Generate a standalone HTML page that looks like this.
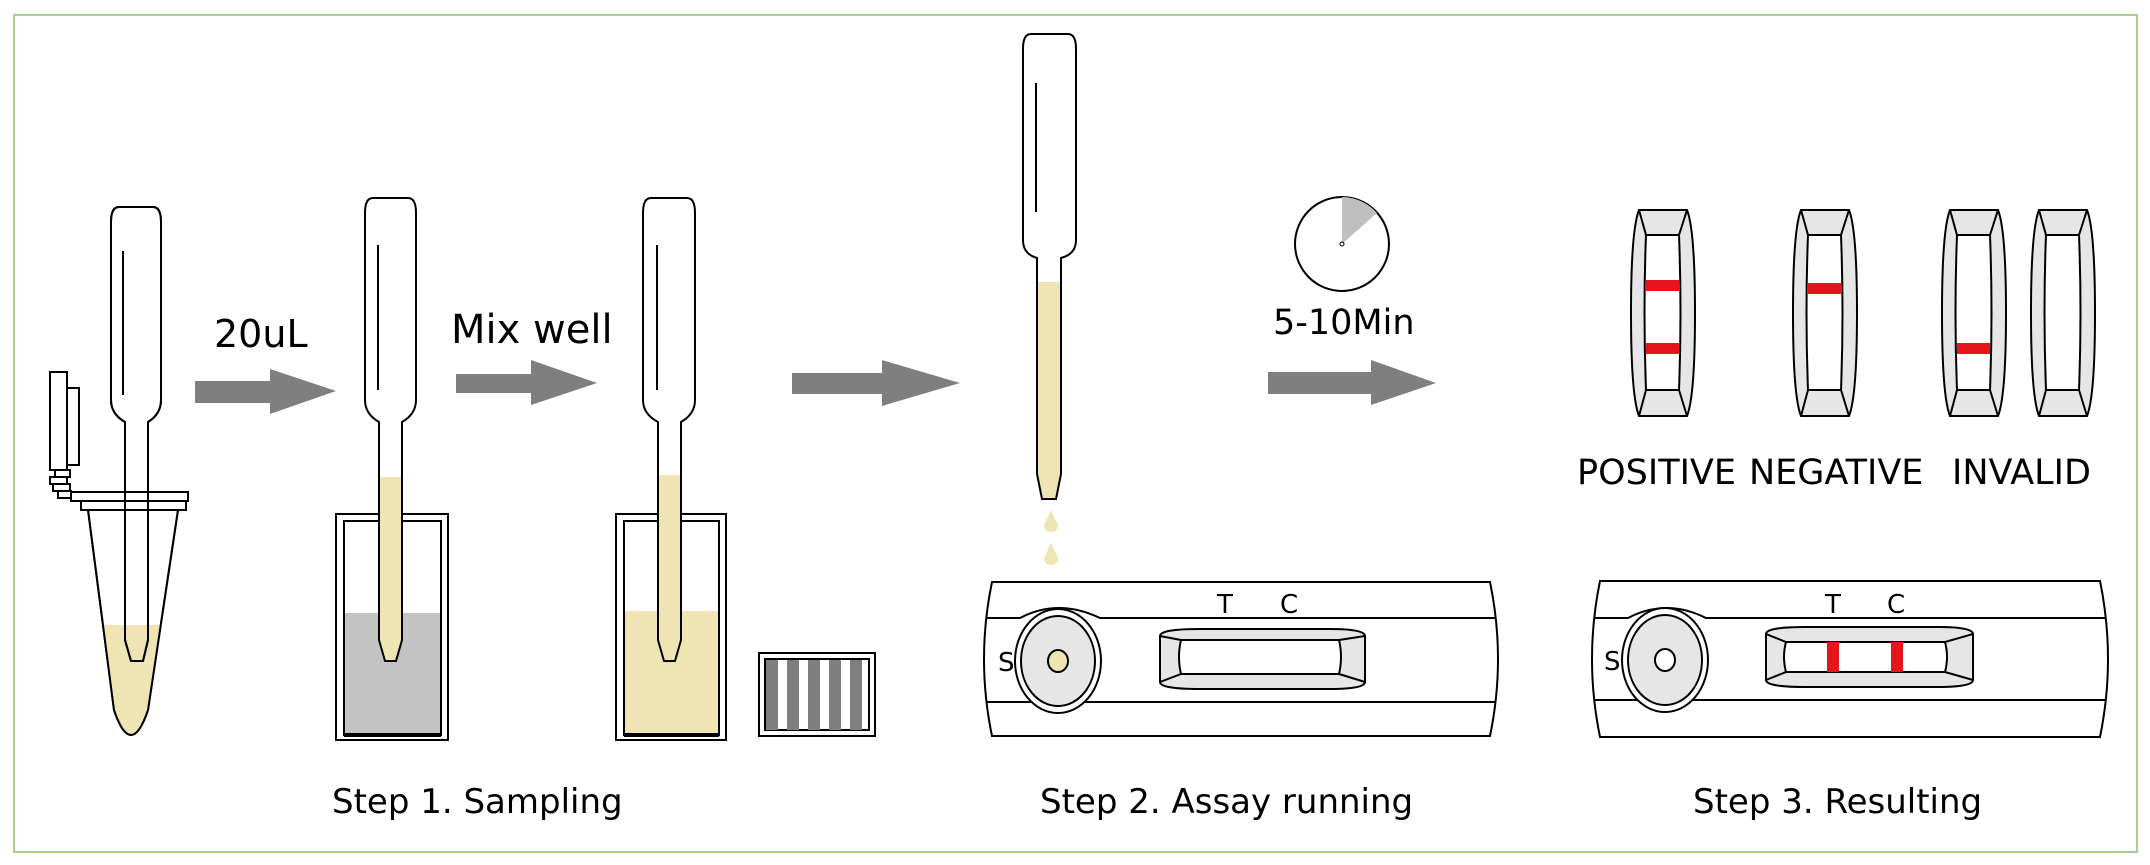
<!DOCTYPE html>
<html><head><meta charset="utf-8"><style>
html,body{margin:0;padding:0;background:#fff;}
svg{display:block;}
text{font-family:"DejaVu Sans","Liberation Sans",sans-serif;fill:#000;}
</style></head><body>
<svg width="2150" height="865" viewBox="0 0 2150 865" xmlns="http://www.w3.org/2000/svg">
<rect x="14" y="15" width="2123" height="837" fill="#fff" stroke="#a9d18e" stroke-width="2"/>
<g fill="none" stroke="#000" stroke-width="2">

<!-- Tube hinge -->
<rect x="50" y="372" width="17" height="98" fill="#fff"/>
<rect x="67" y="388" width="12" height="77" fill="#fff"/>
<rect x="55" y="470" width="15" height="7" fill="#fff"/>
<rect x="50" y="477" width="17" height="7" fill="#fff"/>
<rect x="53" y="484" width="17" height="7" fill="#fff"/>
<rect x="58" y="491" width="13" height="7" fill="#fff"/>
<rect x="71" y="492" width="117" height="9" fill="#fff"/>
<rect x="81" y="501" width="105" height="9" fill="#fff"/>
<!-- cone -->
<path d="M88 510 L178 510 L148 710 Q131 760 114 710 Z" fill="#fff"/>
<clipPath id="cone"><path d="M88 510 L178 510 L148 710 Q131 760 114 710 Z"/></clipPath>
<rect x="80" y="625" width="110" height="130" fill="#efe5b4" stroke="none" clip-path="url(#cone)"/>
<path d="M88 510 L178 510 L148 710 Q131 760 114 710 Z"/>

<!-- Pipette 1 -->
<path d="M119 207 L153 207 Q161 207 161 222 L161 400 Q161 414 148 422 L148 640 L143 661 L131 661 L125 640 L125 422 Q111 414 111 400 L111 222 Q111 207 119 207 Z" fill="#fff" fill-opacity="0"/>
<line x1="123" y1="251" x2="123" y2="395"/>

<!-- Arrow 1 -->
<path d="M195 381 L270 381 L270 369 L336 391 L270 414 L270 403 L195 403 Z" fill="#7f7f7f" stroke="none"/>

<!-- Cup 2 -->
<rect x="336" y="514" width="112" height="226" fill="#fff"/>
<rect x="344" y="521" width="97" height="214"/>
<rect x="345" y="613" width="95" height="121" fill="#c3c3c3" stroke="none"/>
<rect x="344" y="733" width="97" height="4" fill="#000" stroke="none"/>
<!-- Pipette 2 -->
<path d="M379 477 L402 477 L402 640 L396 661 L385 661 L379 640 Z" fill="#efe5b4" stroke="none"/>
<path d="M373 198 L408 198 Q416 198 416 213 L416 400 Q416 414 402 422 L402 640 L396 661 L385 661 L379 640 L379 422 Q365 414 365 400 L365 213 Q365 198 373 198 Z"/>
<line x1="378" y1="245" x2="378" y2="390"/>

<!-- Arrow 2 -->
<path d="M456 374 L531 374 L531 360 L597 383 L531 405 L531 393 L456 393 Z" fill="#7f7f7f" stroke="none"/>

<!-- Cup 3 -->
<rect x="616" y="514" width="110" height="226" fill="#fff"/>
<rect x="624" y="521" width="95" height="214"/>
<rect x="625" y="611" width="93" height="123" fill="#efe5b4" stroke="none"/>
<rect x="624" y="733" width="95" height="4" fill="#000" stroke="none"/>
<!-- Pipette 3 -->
<path d="M658 475 L681 475 L681 640 L675 661 L664 661 L658 640 Z" fill="#efe5b4" stroke="none"/>
<path d="M651 198 L687 198 Q695 198 695 213 L695 400 Q695 414 681 422 L681 640 L675 661 L664 661 L658 640 L658 422 Q643 414 643 400 L643 213 Q643 198 651 198 Z"/>
<line x1="657" y1="245" x2="657" y2="390"/>

<!-- striped box -->
<rect x="759" y="653" width="116" height="83" fill="#fff"/>
<rect x="765" y="659" width="104" height="71"/>
<g fill="#7f7f7f" stroke="none">
<rect x="766" y="660" width="12" height="70"/><rect x="787" y="660" width="12" height="70"/>
<rect x="808" y="660" width="12" height="70"/><rect x="829" y="660" width="12" height="70"/><rect x="850" y="660" width="12" height="70"/>
</g>

<!-- Arrow 3 -->
<path d="M792 373 L882 373 L882 360 L960 383 L882 406 L882 394 L792 394 Z" fill="#7f7f7f" stroke="none"/>

<!-- Pipette 4 -->
<path d="M1037 282 L1061 282 L1061 474 L1056 499 L1042 499 L1037 474 Z" fill="#efe5b4" stroke="none"/>
<path d="M1031 34 L1068 34 Q1076 34 1076 49 L1076 240 Q1076 254 1061 258 L1061 474 L1056 499 L1042 499 L1037 474 L1037 258 Q1023 254 1023 240 L1023 49 Q1023 34 1031 34 Z"/>
<line x1="1036" y1="83" x2="1036" y2="212"/>
<path d="M1051 510 L1058 525 Q1058 532 1051 532 Q1044 532 1044 525 Z" fill="#efe5b4" stroke="none"/>
<path d="M1051 543 L1058 558 Q1058 565 1051 565 Q1044 565 1044 558 Z" fill="#efe5b4" stroke="none"/>

<!-- Clock -->
<circle cx="1342" cy="244" r="47" fill="#fff"/>
<path d="M1342 244 L1342 197 A47 47 0 0 1 1377 213 Z" fill="#bfbfbf" stroke="none"/>
<circle cx="1342" cy="244" r="2" stroke-width="1"/>

<!-- Arrow 4 -->
<path d="M1268 372 L1371 372 L1371 360 L1436 383 L1371 405 L1371 394 L1268 394 Z" fill="#7f7f7f" stroke="none"/>

<!-- Cassette 2 -->
<path d="M992 582 L1490 582 Q1506 659 1490 736 L992 736 Q976 659 992 582 Z" fill="#fff"/>
<path d="M986 618 L1020 618 Q1058 598 1100 618 L1496 618"/>
<path d="M986 702 L1496 702"/>
<ellipse cx="1058" cy="661" rx="43" ry="52" fill="#fff"/>
<ellipse cx="1058" cy="661" rx="37" ry="45" fill="#e6e6e6"/>
<ellipse cx="1058" cy="661" rx="10" ry="11" fill="#efe5b4"/>
<path d="M1160 636 Q1160 629 1200 629 L1330 629 Q1365 629 1365 636 L1365 682 Q1365 689 1330 689 L1200 689 Q1160 689 1160 682 Z" fill="#e6e6e6"/>
<path d="M1181 640 L1339 640 Q1343 657 1339 674 L1181 674 Q1177 657 1181 640 Z" fill="#fff"/>
<path d="M1160 636 L1181 640 M1365 636 L1339 640 M1160 682 L1181 674 M1365 682 L1339 674"/>

<!-- Cassette 3 -->
<path d="M1600 581 L2100 581 Q2116 659 2100 737 L1600 737 Q1584 659 1600 581 Z" fill="#fff"/>
<path d="M1594 618 L1628 618 Q1666 598 1706 618 L2106 618"/>
<path d="M1594 700 L2106 700"/>
<ellipse cx="1665" cy="660" rx="43" ry="52" fill="#fff"/>
<ellipse cx="1665" cy="660" rx="37" ry="45" fill="#e6e6e6"/>
<ellipse cx="1665" cy="660" rx="10" ry="11" fill="#fff"/>
<path d="M1766 634 Q1766 627 1806 627 L1938 627 Q1973 627 1973 634 L1973 680 Q1973 687 1938 687 L1806 687 Q1766 687 1766 680 Z" fill="#e6e6e6"/>
<path d="M1786 642 L1945 642 Q1949 657 1945 672 L1786 672 Q1782 657 1786 642 Z" fill="#fff"/>
<path d="M1766 634 L1786 642 M1973 634 L1945 642 M1766 680 L1786 672 M1973 680 L1945 672"/>
<rect x="1827" y="642" width="12" height="30" fill="#e8141c" stroke="none"/>
<rect x="1891" y="642" width="12" height="30" fill="#e8141c" stroke="none"/>

<!-- Strips -->
<g id="s1">
<path d="M1639 210 L1687 210 Q1695 230 1695 313 Q1695 396 1687 416 L1639 416 Q1631 396 1631 313 Q1631 230 1639 210 Z" fill="#e6e6e6"/>
<path d="M1646 235 L1679 235 Q1682 313 1679 390 L1646 390 Q1643 313 1646 235 Z" fill="#fff"/>
<path d="M1639 210 L1646 235 M1687 210 L1679 235 M1639 416 L1646 390 M1687 416 L1679 390"/>
</g>
<g transform="translate(162,0)">
<path d="M1639 210 L1687 210 Q1695 230 1695 313 Q1695 396 1687 416 L1639 416 Q1631 396 1631 313 Q1631 230 1639 210 Z" fill="#e6e6e6"/>
<path d="M1646 235 L1679 235 Q1682 313 1679 390 L1646 390 Q1643 313 1646 235 Z" fill="#fff"/>
<path d="M1639 210 L1646 235 M1687 210 L1679 235 M1639 416 L1646 390 M1687 416 L1679 390"/>
</g>
<g transform="translate(311,0)">
<path d="M1639 210 L1687 210 Q1695 230 1695 313 Q1695 396 1687 416 L1639 416 Q1631 396 1631 313 Q1631 230 1639 210 Z" fill="#e6e6e6"/>
<path d="M1646 235 L1679 235 Q1682 313 1679 390 L1646 390 Q1643 313 1646 235 Z" fill="#fff"/>
<path d="M1639 210 L1646 235 M1687 210 L1679 235 M1639 416 L1646 390 M1687 416 L1679 390"/>
</g>
<g transform="translate(400,0)">
<path d="M1639 210 L1687 210 Q1695 230 1695 313 Q1695 396 1687 416 L1639 416 Q1631 396 1631 313 Q1631 230 1639 210 Z" fill="#e6e6e6"/>
<path d="M1646 235 L1679 235 Q1682 313 1679 390 L1646 390 Q1643 313 1646 235 Z" fill="#fff"/>
<path d="M1639 210 L1646 235 M1687 210 L1679 235 M1639 416 L1646 390 M1687 416 L1679 390"/>
</g>
<g fill="#e8141c" stroke="none">
<rect x="1646" y="280" width="33" height="11"/>
<rect x="1646" y="343" width="33" height="11"/>
<rect x="1808" y="283" width="33" height="11"/>
<rect x="1957" y="343" width="33" height="11"/>
</g>
</g>

<!-- Pipette 1 outline on top of tube -->
<path d="M119 207 L153 207 Q161 207 161 222 L161 400 Q161 414 148 422 L148 640 L143 661 L131 661 L125 640 L125 422 Q111 414 111 400 L111 222 Q111 207 119 207 Z" fill="none" stroke="#000" stroke-width="2"/>

<!-- Text -->
<text x="214" y="347" font-size="38" font-family="Liberation Sans">20uL</text>
<text x="451" y="343" font-size="40" font-family="Liberation Sans">Mix well</text>
<text x="1273" y="334" font-size="35">5-10Min</text>
<text x="998" y="671" font-size="26">S</text>
<text x="1217" y="613" font-size="26">T</text>
<text x="1280" y="613" font-size="26">C</text>
<text x="1604" y="670" font-size="26">S</text>
<text x="1825" y="613" font-size="26">T</text>
<text x="1887" y="613" font-size="26">C</text>
<text x="1577" y="484" font-size="35">POSITIVE</text>
<text x="1749" y="484" font-size="35">NEGATIVE</text>
<text x="1952" y="484" font-size="35">INVALID</text>
<text x="332" y="813" font-size="34">Step 1. Sampling</text>
<text x="1040" y="813" font-size="34">Step 2. Assay running</text>
<text x="1693" y="813" font-size="34">Step 3. Resulting</text>
</svg>
</body></html>
